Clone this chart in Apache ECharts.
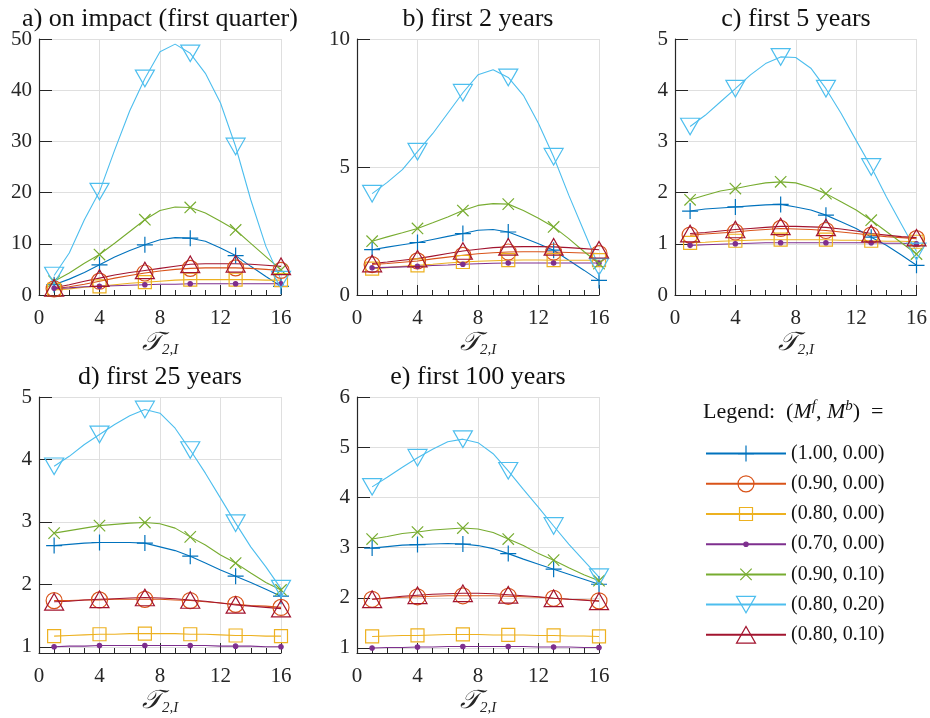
<!DOCTYPE html>
<html>
<head>
<meta charset="utf-8">
<script src="https://cdn.jsdelivr.net/npm/echarts@6/dist/echarts.min.js"></script>
<style>
  html, body { margin: 0; padding: 0; background: #fff; }
  #chart { width: 930px; height: 718px; }
</style>
</head>
<body>
<div id="chart"></div>
<script>
// Horizon values on the x axis and the ones that carry a marker
const tau = [1, 2, 3, 4, 5, 6, 7, 8, 9, 10, 11, 12, 13, 14, 15, 16];
const markerTau = [1, 4, 7, 10, 13, 16];

// Parameter pairs (M^f, M^b), in legend order
const seriesLabels = ['(1.00, 0.00)', '(0.90, 0.00)', '(0.80, 0.00)', '(0.70, 0.00)',
                      '(0.90, 0.10)', '(0.80, 0.20)', '(0.80, 0.10)'];

const panelTitles = ['a) on impact (first quarter)', 'b) first 2 years', 'c) first 5 years',
                     'd) first 25 years', 'e) first 100 years'];

// y-axis ranges and tick values per panel
const yMin = [0, 0, 0, 0.9, 0.9];
const yMax = [50, 10, 5, 5, 6];
const yTickValues = [
  [0, 10, 20, 30, 40, 50],
  [0, 5, 10],
  [0, 1, 2, 3, 4, 5],
  [1, 2, 3, 4, 5],
  [1, 2, 3, 4, 5, 6]
];

// a) on impact (first quarter): one row per parameter pair, one value per tau
const onImpact = [
  [2.0, 3.1, 4.4, 5.9, 7.4, 8.7, 9.8, 10.8, 11.2, 11.1, 10.5, 9.2, 7.7, 5.6, 3.6, 1.7],
  [1.2, 1.6, 2.1, 2.7, 3.3, 3.8, 4.3, 4.7, 5.0, 5.2, 5.3, 5.3, 5.3, 5.2, 5.0, 4.8],
  [1.0, 1.2, 1.5, 1.7, 2.0, 2.3, 2.5, 2.7, 2.9, 3.0, 3.0, 3.0, 3.0, 3.0, 2.9, 2.9],
  [1.3, 1.4, 1.6, 1.7, 1.8, 1.9, 2.0, 2.1, 2.1, 2.2, 2.2, 2.2, 2.2, 2.2, 2.2, 2.2],
  [2.7, 4.3, 6.2, 7.9, 10.1, 12.4, 14.7, 16.5, 17.2, 17.1, 16.0, 14.4, 12.7, 10.1, 7.5, 4.9],
  [3.8, 8.2, 14.7, 20.2, 28.3, 36.0, 42.3, 47.5, 49.0, 47.2, 43.3, 37.5, 29.0, 18.6, 9.5, 3.0],
  [1.4, 2.0, 2.7, 3.3, 3.9, 4.4, 4.8, 5.2, 5.6, 6.0, 6.1, 6.1, 6.1, 6.0, 5.8, 5.6]
];

// b) first 2 years
const firstTwoYears = [
  [1.77, 1.87, 1.96, 2.05, 2.17, 2.29, 2.40, 2.53, 2.56, 2.46, 2.24, 2.00, 1.75, 1.36, 0.97, 0.57],
  [1.19, 1.23, 1.28, 1.33, 1.41, 1.48, 1.55, 1.61, 1.65, 1.68, 1.69, 1.69, 1.68, 1.66, 1.64, 1.62],
  [1.03, 1.07, 1.12, 1.16, 1.20, 1.25, 1.29, 1.32, 1.34, 1.36, 1.37, 1.37, 1.36, 1.36, 1.36, 1.36],
  [1.06, 1.08, 1.10, 1.12, 1.15, 1.17, 1.20, 1.22, 1.24, 1.25, 1.25, 1.25, 1.25, 1.25, 1.25, 1.25],
  [2.10, 2.27, 2.43, 2.60, 2.82, 3.05, 3.30, 3.50, 3.57, 3.55, 3.30, 3.00, 2.66, 2.20, 1.70, 1.23],
  [3.96, 4.40, 4.90, 5.60, 6.30, 7.10, 7.90, 8.60, 8.80, 8.50, 7.80, 6.70, 5.40, 3.90, 2.50, 1.10],
  [1.23, 1.29, 1.36, 1.42, 1.52, 1.62, 1.72, 1.79, 1.85, 1.88, 1.89, 1.89, 1.88, 1.85, 1.81, 1.77]
];

// c) first 5 years
const firstFiveYears = [
  [1.64, 1.68, 1.70, 1.72, 1.74, 1.76, 1.77, 1.72, 1.66, 1.56, 1.43, 1.30, 1.13, 0.97, 0.78, 0.58],
  [1.17, 1.19, 1.21, 1.23, 1.26, 1.28, 1.30, 1.29, 1.28, 1.26, 1.23, 1.20, 1.17, 1.14, 1.12, 1.10],
  [1.02, 1.03, 1.05, 1.06, 1.07, 1.08, 1.08, 1.08, 1.08, 1.08, 1.07, 1.07, 1.06, 1.05, 1.05, 1.04],
  [0.97, 0.98, 0.99, 1.00, 1.01, 1.02, 1.02, 1.02, 1.02, 1.02, 1.02, 1.02, 1.02, 1.01, 1.01, 1.00],
  [1.86, 1.95, 2.03, 2.08, 2.14, 2.19, 2.21, 2.19, 2.10, 1.98, 1.82, 1.66, 1.46, 1.24, 1.02, 0.80],
  [3.29, 3.51, 3.77, 4.03, 4.30, 4.52, 4.65, 4.64, 4.43, 4.03, 3.55, 3.02, 2.50, 1.92, 1.38, 0.85],
  [1.20, 1.22, 1.25, 1.28, 1.30, 1.32, 1.34, 1.34, 1.33, 1.32, 1.29, 1.25, 1.20, 1.17, 1.14, 1.12]
];

// d) first 25 years
const firstTwentyFiveYears = [
  [2.62, 2.64, 2.66, 2.67, 2.67, 2.67, 2.66, 2.60, 2.54, 2.45, 2.34, 2.23, 2.13, 2.03, 1.92, 1.81],
  [1.74, 1.74, 1.75, 1.75, 1.76, 1.76, 1.76, 1.76, 1.75, 1.74, 1.72, 1.70, 1.68, 1.66, 1.65, 1.63],
  [1.17, 1.18, 1.19, 1.20, 1.20, 1.21, 1.21, 1.21, 1.21, 1.20, 1.20, 1.19, 1.18, 1.18, 1.17, 1.17],
  [1.00, 1.01, 1.01, 1.02, 1.02, 1.02, 1.02, 1.02, 1.02, 1.02, 1.02, 1.01, 1.01, 1.01, 1.00, 1.00],
  [2.82, 2.86, 2.90, 2.94, 2.96, 2.98, 2.99, 2.97, 2.90, 2.76, 2.63, 2.47, 2.34, 2.18, 2.03, 1.91],
  [3.89, 4.05, 4.24, 4.40, 4.56, 4.70, 4.80, 4.74, 4.50, 4.15, 3.78, 3.38, 2.98, 2.60, 2.28, 1.93],
  [1.72, 1.73, 1.75, 1.76, 1.77, 1.78, 1.79, 1.78, 1.77, 1.75, 1.73, 1.70, 1.67, 1.65, 1.63, 1.61]
];

// e) first 100 years
const firstHundredYears = [
  [2.99, 3.02, 3.05, 3.06, 3.07, 3.08, 3.07, 3.04, 2.98, 2.88, 2.77, 2.67, 2.57, 2.47, 2.37, 2.27],
  [1.97, 1.99, 2.01, 2.02, 2.03, 2.04, 2.04, 2.04, 2.04, 2.03, 2.02, 2.01, 1.99, 1.97, 1.96, 1.94],
  [1.23, 1.24, 1.25, 1.25, 1.26, 1.27, 1.27, 1.27, 1.26, 1.26, 1.26, 1.25, 1.25, 1.24, 1.24, 1.23],
  [1.00, 1.01, 1.01, 1.02, 1.02, 1.03, 1.03, 1.03, 1.03, 1.03, 1.03, 1.02, 1.02, 1.02, 1.01, 1.01],
  [3.17, 3.22, 3.28, 3.31, 3.35, 3.37, 3.39, 3.37, 3.30, 3.17, 3.04, 2.88, 2.75, 2.60, 2.46, 2.34],
  [4.21, 4.40, 4.60, 4.79, 4.96, 5.11, 5.16, 5.09, 4.87, 4.53, 4.16, 3.80, 3.43, 3.07, 2.74, 2.41],
  [1.97, 2.00, 2.03, 2.05, 2.07, 2.08, 2.09, 2.09, 2.08, 2.06, 2.04, 2.02, 1.99, 1.97, 1.95, 1.93]
];

const panelValues = [onImpact, firstTwoYears, firstFiveYears, firstTwentyFiveYears, firstHundredYears];

// ---- styling ----
const FONT = '"Liberation Serif", "DejaVu Serif", serif';
const INK = '#262626';
const GRID_LINE = '#dfdfdf';
const colors = ['#0072BD', '#D95319', '#EDB120', '#7E2F8E', '#77AC30', '#4DBEEE', '#A2142F'];

// Marker outlines drawn in a shared 20x20 box (the two leading moves pin the box),
// so every marker keeps its own size both on the plot and in the legend.
const BOX = 'path://M0,0 M20,20 ';
const markers = [
  BOX + 'M10,2 L10,18 M2,10 L18,10',                                  // plus
  BOX + 'M10,2 A8,8 0 1,1 10,18 A8,8 0 1,1 10,2 Z',                   // circle
  BOX + 'M3.5,3.5 L16.5,3.5 L16.5,16.5 L3.5,16.5 Z',                  // square
  BOX + 'M10,7.8 A2.2,2.2 0 1,1 10,12.2 A2.2,2.2 0 1,1 10,7.8 Z',     // dot
  BOX + 'M4.3,4.3 L15.7,15.7 M15.7,4.3 L4.3,15.7',                    // cross
  BOX + 'M0.5,1.7 L19.5,1.7 L10,18.3 Z',                              // down triangle
  BOX + 'M0.5,18.3 L19.5,18.3 L10,1.7 Z'                              // up triangle
];
const filledMarker = [false, false, false, true, false, false, false];

// Plot boxes (left, top) in pixels
const gridPos = [[39, 39], [357, 39], [675, 39], [39, 397], [357, 397]];
const GRID_W = 242, GRID_H = 256;

const grids = [], xAxes = [], yAxes = [], series = [], graphics = [];

panelValues.forEach((vals, p) => {
  grids.push({ left: gridPos[p][0], top: gridPos[p][1], width: GRID_W, height: GRID_H, containLabel: false });

  xAxes.push({
    type: 'value', gridIndex: p, min: 0, max: 16, interval: 4,
    axisLine: { show: true, onZero: false, lineStyle: { color: INK, width: 1.2 } },
    axisTick: { show: true, inside: true, length: 10, lineStyle: { color: INK, width: 1 } },
    minorTick: { show: true, splitNumber: 4, length: 5, lineStyle: { color: INK, width: 1 } },
    axisLabel: { fontFamily: FONT, fontSize: 21, color: INK, margin: 13 },
    splitLine: { show: true, lineStyle: { color: GRID_LINE, width: 1 } },
    minorSplitLine: { show: false },
    name: '{t|𝒯}{s|2,I}',
    nameLocation: 'middle', nameGap: 21,
    nameTextStyle: {
      rich: {
        t: { fontFamily: FONT, fontSize: 26, fontStyle: 'italic', color: INK, lineHeight: 30, verticalAlign: 'middle' },
        s: { fontFamily: FONT, fontSize: 15, fontStyle: 'italic', color: INK, lineHeight: 14, verticalAlign: 'bottom' }
      }
    }
  });

  yAxes.push({
    type: 'value', gridIndex: p, min: yMin[p], max: yMax[p],
    axisLine: { show: true, onZero: false, lineStyle: { color: INK, width: 1.2 } },
    axisTick: { show: true, inside: true, length: 13, lineStyle: { color: INK, width: 1 }, customValues: yTickValues[p] },
    axisLabel: { fontFamily: FONT, fontSize: 21, color: INK, margin: 7, customValues: yTickValues[p] },
    splitLine: { show: true, lineStyle: { color: GRID_LINE, width: 1 } }
  });

  vals.forEach((row, k) => {
    const c = colors[k];
    series.push({
      type: 'line', name: seriesLabels[k], xAxisIndex: p, yAxisIndex: p,
      data: tau.map((t, i) => markerTau.indexOf(t) >= 0
        ? { value: [t, row[i]] }
        : { value: [t, row[i]], symbol: 'none' }),
      symbol: markers[k], symbolSize: 20, showSymbol: true, clip: false,
      lineStyle: { color: c, width: 1.1 },
      itemStyle: { color: filledMarker[k] ? c : 'transparent', borderColor: c, borderWidth: 1.2 },
      emphasis: { disabled: true },
      animation: false
    });
  });

  graphics.push({
    type: 'text',
    x: gridPos[p][0] + GRID_W / 2,
    y: gridPos[p][1] - 20,
    style: {
      text: panelTitles[p], font: '26px ' + FONT, fill: '#111',
      textAlign: 'center', align: 'center', textVerticalAlign: 'middle', verticalAlign: 'middle'
    }
  });
});

// Legend heading with the (M^f, M^b) pair
graphics.push({
  type: 'text', x: 703, y: 412,
  style: {
    text: 'Legend:  ({i|M}{sup|f}, {i|M}{sup|b})  =',
    font: '22px ' + FONT, fill: '#111', textVerticalAlign: 'middle', verticalAlign: 'middle',
    rich: {
      i: { fontFamily: FONT, fontSize: 22, fontStyle: 'italic', fill: '#111', lineHeight: 26, verticalAlign: 'middle' },
      sup: { fontFamily: FONT, fontSize: 15, fontStyle: 'italic', fill: '#111', lineHeight: 12, verticalAlign: 'top' }
    }
  }
});

const chart = echarts.init(document.getElementById('chart'), null, { renderer: 'canvas' });
chart.setOption({
  backgroundColor: '#ffffff',
  animation: false,
  grid: grids,
  xAxis: xAxes,
  yAxis: yAxes,
  series: series,
  legend: {
    data: seriesLabels,
    orient: 'vertical', left: 705, top: 443, padding: 0,
    itemWidth: 80, itemHeight: 25, itemGap: 9,
    selectedMode: false,
    itemStyle: { borderWidth: 1.2 },
    textStyle: { fontFamily: FONT, fontSize: 20, color: '#111' }
  },
  graphic: graphics
});
</script>
</body>
</html>
